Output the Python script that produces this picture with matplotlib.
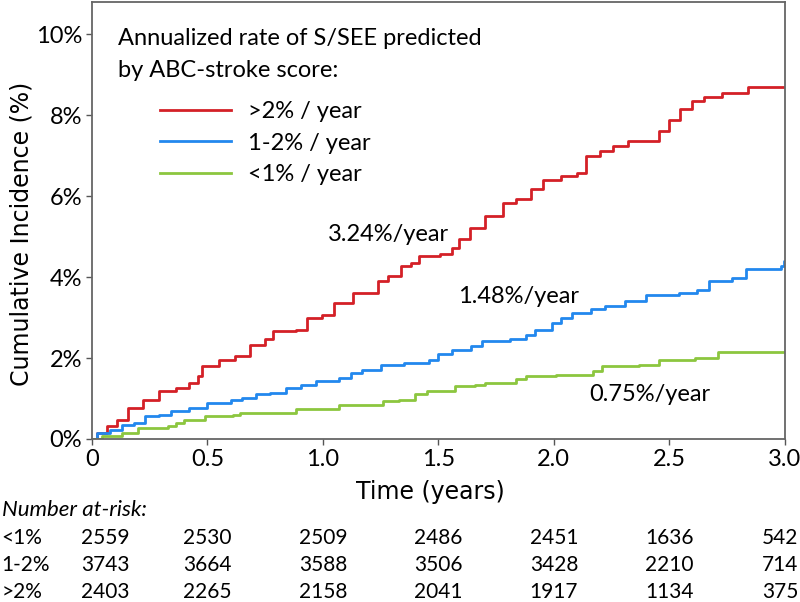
import matplotlib
matplotlib.use("Agg")
import matplotlib.pyplot as plt
import matplotlib.transforms as mtransforms

# step points (time in years, cumulative incidence in %)
red_t = [0, 0.02, 0.066, 0.11, 0.155, 0.22, 0.29, 0.365, 0.42, 0.46, 0.475, 0.55, 0.62,
         0.685, 0.75, 0.785, 0.885, 0.93, 0.995, 1.05, 1.13, 1.24, 1.28, 1.34, 1.38, 1.415,
         1.505, 1.56, 1.59, 1.635, 1.70, 1.78, 1.835, 1.90, 1.955, 2.03, 2.10, 2.14, 2.20,
         2.255, 2.32, 2.43, 2.455, 2.50, 2.545, 2.60, 2.65, 2.73, 2.84, 3.0]
red_y = [0, 0.15, 0.31, 0.48, 0.77, 0.97, 1.18, 1.26, 1.38, 1.55, 1.80, 1.96, 2.04,
         2.33, 2.46, 2.66, 2.70, 2.99, 3.07, 3.36, 3.61, 3.90, 4.02, 4.27, 4.35, 4.52,
         4.56, 4.72, 4.93, 5.22, 5.51, 5.84, 5.92, 6.17, 6.41, 6.50, 6.58, 6.99, 7.11,
         7.24, 7.37, 7.37, 7.60, 7.87, 8.16, 8.34, 8.44, 8.56, 8.71, 8.71]

blue_t = [0, 0.02, 0.077, 0.13, 0.18, 0.23, 0.29, 0.34, 0.42, 0.50, 0.60, 0.65, 0.71,
          0.77, 0.84, 0.905, 0.97, 1.07, 1.12, 1.17, 1.25, 1.35, 1.46, 1.50, 1.56, 1.64,
          1.69, 1.81, 1.88, 1.92, 1.99, 2.03, 2.08, 2.16, 2.22, 2.31, 2.40, 2.54, 2.62,
          2.67, 2.77, 2.83, 2.985, 2.995, 3.0]
blue_y = [0, 0.15, 0.23, 0.35, 0.40, 0.56, 0.60, 0.68, 0.77, 0.89, 0.97, 1.01, 1.10,
          1.14, 1.26, 1.34, 1.43, 1.51, 1.63, 1.71, 1.84, 1.88, 1.96, 2.09, 2.21, 2.29,
          2.42, 2.46, 2.58, 2.70, 2.87, 2.99, 3.12, 3.20, 3.28, 3.40, 3.57, 3.61, 3.69,
          3.90, 3.98, 4.19, 4.27, 4.40, 4.40]

green_t = [0, 0.044, 0.13, 0.20, 0.33, 0.365, 0.40, 0.49, 0.61, 0.64, 0.885, 1.07, 1.26,
           1.33, 1.40, 1.45, 1.57, 1.66, 1.70, 1.835, 1.88, 2.01, 2.17, 2.21, 2.37, 2.455,
           2.61, 2.71, 3.0]
green_y = [0, 0.07, 0.15, 0.27, 0.31, 0.40, 0.48, 0.56, 0.60, 0.64, 0.73, 0.85, 0.93,
           0.97, 1.10, 1.18, 1.30, 1.34, 1.38, 1.47, 1.55, 1.59, 1.67, 1.80, 1.84, 1.96,
           2.00, 2.14, 2.14]

# number at risk table
risk_times = [0, 0.5, 1.0, 1.5, 2.0, 2.5, 3.0]
risk_groups = ["<1%", "1-2%", ">2%"]
risk_counts = [[2559, 2530, 2509, 2486, 2451, 1636, 542],
               [3743, 3664, 3588, 3506, 3428, 2210, 714],
               [2403, 2265, 2158, 2041, 1917, 1134, 375]]

rate_labels = ["3.24%/year", "1.48%/year", "0.75%/year"]

RED = "#d42027"
BLUE = "#2288ee"
GREEN = "#8cc63f"
FONT = "Lato"

fig = plt.figure(figsize=(8, 6.02), dpi=100)
ax = fig.add_axes([0.115, 0.2708, 0.866, 0.726])

ax.step(red_t, red_y, where="post", color=RED, lw=2, label=">2% / year")
ax.step(blue_t, blue_y, where="post", color=BLUE, lw=2, label="1-2% / year")
ax.step(green_t, green_y, where="post", color=GREEN, lw=2, label="<1% / year")

ax.set_xlim(0, 3.0)
ax.set_ylim(0, 10.8)
ax.set_xticks([0, 0.5, 1.0, 1.5, 2.0, 2.5, 3.0])
ax.set_xticklabels(["0", "0.5", "1.0", "1.5", "2.0", "2.5", "3.0"], fontsize=17, family=FONT)
ax.set_yticks([0, 2, 4, 6, 8, 10])
ax.set_yticklabels(["0%", "2%", "4%", "6%", "8%", "10%"], fontsize=17, family=FONT)
ax.tick_params(direction="out", length=4, color="#555555", width=1, pad=3)
for s in ax.spines.values():
    s.set_color("#666666")
    s.set_linewidth(1.3)

ax.set_ylabel("Cumulative Incidence (%)", fontsize=17)
ax.yaxis.set_label_coords(-0.085, 0.47)
ax.set_xlabel("Time (years)", fontsize=17)
ax.xaxis.set_label_coords(0.488, -0.095)

ax.text(0.038, 0.941, "Annualized rate of S/SEE predicted\nby ABC-stroke score:",
        transform=ax.transAxes, ha="left", va="top", fontsize=17, family=FONT,
        linespacing=1.65)
ax.legend(loc="upper left", bbox_to_anchor=(0.085, 0.795), frameon=False,
          prop={"family": FONT, "size": 17}, handlelength=3.0, handletextpad=0.7,
          labelspacing=0.45, borderaxespad=0)

ax.text(1.02, 5.05, rate_labels[0], fontsize=17, family=FONT, ha="left", va="center")
ax.text(1.585, 3.51, rate_labels[1], fontsize=17, family=FONT, ha="left", va="center")
ax.text(2.155, 1.09, rate_labels[2], fontsize=17, family=FONT, ha="left", va="center")

# at-risk table below the axes
trans = mtransforms.blended_transform_factory(ax.transData, fig.transFigure)
fig.text(0.002, 1 - 510 / 602, "Number at-risk:", fontsize=16, family=FONT,
         style="italic", ha="left", va="center")
row_y = [538, 565, 592]
for g, counts, yy in zip(risk_groups, risk_counts, row_y):
    fig.text(0.002, 1 - yy / 602, g, fontsize=15, family=FONT, ha="left", va="center")
    for t, n in zip(risk_times, counts):
        if t == risk_times[-1]:
            fig.text(0.998, 1 - yy / 602, str(n), fontsize=15, family=FONT,
                     ha="right", va="center")
            continue
        xpos = 0.056 if t == 0 else t
        ax.text(xpos, 1 - yy / 602, str(n), transform=trans, fontsize=15, family=FONT,
                ha="center", va="center", clip_on=False)

fig.savefig("out.png", dpi=100)
